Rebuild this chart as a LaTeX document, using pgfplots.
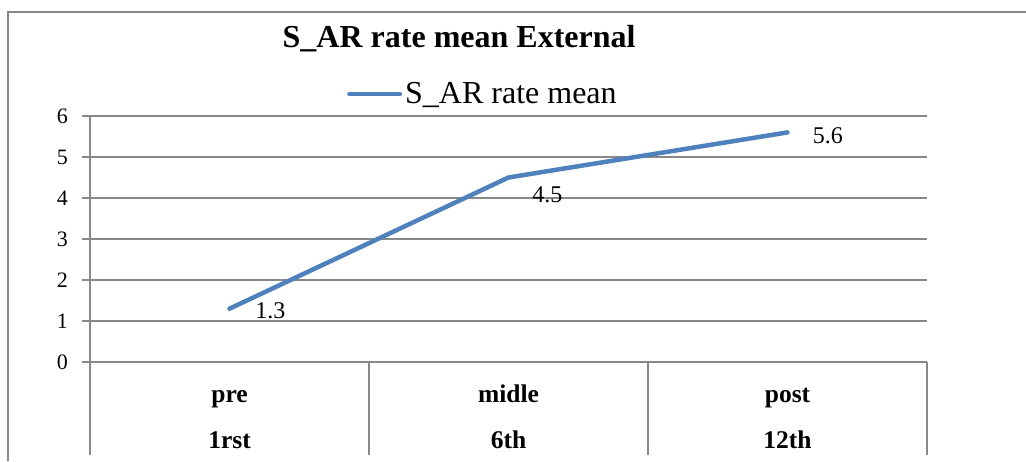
\documentclass[border=0pt]{standalone}
\usepackage{fontspec}
\setmainfont{Liberation Serif}
\usepackage{pgfplots}
\pgfplotsset{compat=1.18}
\usepackage{pgfplotstable}

\definecolor{seriesblue}{RGB}{79,129,189}
\definecolor{gridgray}{RGB}{136,136,136}

% session means with the offsets of their value labels (pt)
\pgfplotstableread{
x y dx dy
0 1.3 23.5 -2
1 4.5 21.5 -17.5
2 5.6 23 -3
}\meantable

\begin{document}
\begin{tikzpicture}[x=1pt,y=1pt]
\useasboundingbox (0,0) rectangle (1026,461);
% chart frame
\draw[gridgray, line width=1.2pt] (8,0) -- (8,449) -- (1026,449);
\begin{axis}[
  at={(90pt,99pt)}, anchor=south west,
  scale only axis, width=837pt, height=246pt,
  xmin=-0.5, xmax=2.5, ymin=0, ymax=6,
  ytick={0,1,2,3,4,5,6},
  yticklabel={\pgfmathprintnumber{\tick}},
  xtick={0,1,2},
  xticklabels={{\strut pre\\\strut 1rst},{\strut midle\\\strut 6th},{\strut post\\\strut 12th}},
  axis lines*=left,
  axis line style={gridgray, line width=1.2pt},
  ymajorgrids,
  major grid style={gridgray, line width=1.2pt},
  tick align=outside,
  major tick length=8pt,
  ytick style={gridgray, line width=1.2pt},
  xtick style={draw=none},
  /pgf/number format/assume math mode=true,
  y tick label style={font=\fontsize{22}{22}\selectfont, inner sep=0pt, xshift=-14pt},
  x tick label style={font=\bfseries\fontsize{25.5}{46}\selectfont, align=center,
    anchor=north, yshift=3.5pt},
  clip=false,
  title={S\_AR rate mean External},
  title style={font=\bfseries\fontsize{32}{32}\selectfont,
    at={(rel axis cs:0.441,1.256)}, anchor=base},
  legend style={at={(rel axis cs:0.307,1.089)}, anchor=west,
    draw=none, fill=none, inner sep=0pt,
    font=\fontsize{32}{32}\selectfont,
    nodes={inner sep=0pt},
    /tikz/every odd column/.append style={column sep=3pt}},
  legend image code/.code={\draw[#1] (2.25pt,0pt) -- (52.75pt,0pt);},
]
\addplot[seriesblue, line width=4.5pt, line cap=round, line join=round,
  visualization depends on={\thisrow{dx} \as \dx},
  visualization depends on={\thisrow{dy} \as \dy},
  nodes near coords,
  every node near coord/.append style={font=\fontsize{24}{24}\selectfont,
    text=black, anchor=west, inner sep=0pt, xshift=\dx pt, yshift=\dy pt}]
  table[x=x, y=y] {\meantable};
\addlegendentry{S\_AR rate mean}
% category separators below the axis
\pgfplotsinvokeforeach{-0.5,0.5,1.5,2.5}{
  \draw[gridgray, line width=1.2pt] (axis cs:#1,0) -- ([yshift=-93pt]axis cs:#1,0);
}
\end{axis}
\end{tikzpicture}
\end{document}
